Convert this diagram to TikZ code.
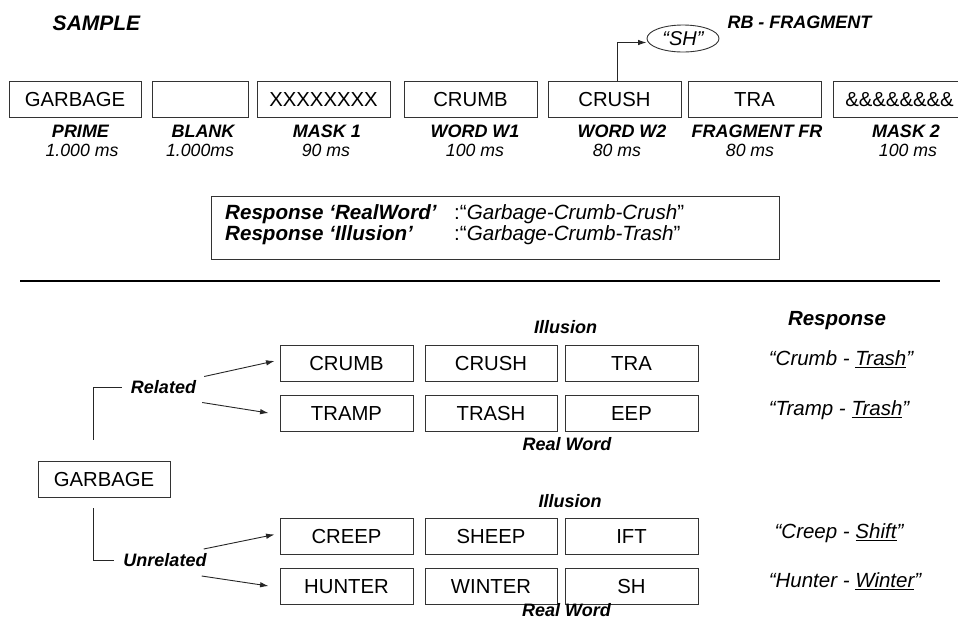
\documentclass[tikz,border=0pt]{standalone}
\usepackage{fontspec}
\setmainfont{Liberation Sans}
\usetikzlibrary{shapes.geometric,arrows.meta}

\tikzset{
    stim/.style={draw=black!80, line width=0.9pt, minimum width=133pt, minimum height=36pt, inner sep=0pt,
        font=\fontsize{20.3}{24}\selectfont, text height=14.5pt, text depth=0pt},
    cond/.style={inner sep=0pt, font=\fontsize{18}{20}\selectfont\bfseries\itshape, text height=12.9pt, text depth=0pt},
    dur/.style={inner sep=0pt, font=\fontsize{17.7}{20}\selectfont\itshape, text height=12.7pt, text depth=0pt},
    rtxt/.style={inner sep=0pt, font=\fontsize{20.6}{24}\selectfont, text height=14.7pt, text depth=0pt},
    answer/.style={inner sep=0pt, font=\fontsize{20.5}{24}\selectfont\itshape, text height=14.7pt, text depth=0pt},
    link/.style={draw=black!85, line width=0.9pt},
    tip/.style={link, -{Latex[length=8.5pt,width=5.5pt]}}
}

\begin{document}
\begin{tikzpicture}[x=1pt,y=-1pt]
    \useasboundingbox (0,0) rectangle (958,619);

    \node[inner sep=0pt, font=\fontsize{21}{24}\selectfont\bfseries\itshape, text height=15pt, text depth=0pt] (sample) at (96.5,23) {SAMPLE};
    \node[cond] (rbfrag) at (799.5,22) {RB - FRAGMENT};

    \node[stim, minimum width=132pt] (prime) at (75,99) {GARBAGE};
    \node[stim, minimum width=96pt] (blank) at (200,99) {};
    \node[stim] (mask1) at (323.5,99) {XXXXXXXX};
    \node[stim] (w1) at (470.5,99) {CRUMB};
    \node[stim] (w2) at (614.5,99) {CRUSH};
    \node[stim] (frag) at (754.5,99) {TRA};
    \node[stim] (mask2) at (899.5,99) {\&\&\&\&\&\&\&\&};

    \node[cond] (primelab) at (80.5,131) {PRIME};
    \node[cond] (blanklab) at (203,131) {BLANK};
    \node[cond] (masklab) at (327,131) {MASK 1};
    \node[cond] (w1lab) at (475,131) {WORD W1};
    \node[cond] (w2lab) at (622,131) {WORD W2};
    \node[cond] (fraglab) at (757,131) {FRAGMENT FR};
    \node[cond] (mask2lab) at (906,131) {MASK 2};

    \node[dur] (primems) at (82,150.5) {1.000 ms};
    \node[dur] (blankms) at (200,150.5) {1.000ms};
    \node[dur] (maskms) at (326,150.5) {90 ms};
    \node[dur] (w1ms) at (475,150.5) {100 ms};
    \node[dur] (w2ms) at (617,150.5) {80 ms};
    \node[dur] (fragms) at (750,150.5) {80 ms};
    \node[dur] (mask2ms) at (908,150.5) {100 ms};

    \node[draw=black!80, line width=0.9pt, ellipse, minimum width=72pt, minimum height=27pt, inner sep=0pt,
        font=\fontsize{20}{24}\selectfont\itshape] (sh) at (683,38.5) {“SH”};
    \draw[tip] ([xshift=3pt]w2.north) |- ([shift={(0,4)}]sh.west);

    \node[draw=black!80, line width=0.9pt, minimum width=568pt, minimum height=63pt, inner sep=0pt] (respbox) at (495,227.5) {};
    \node[rtxt, anchor=west] (resp1) at (225,212) {\bfseries\itshape Response ‘RealWord’};
    \node[rtxt, anchor=west] (resp1b) at (454,212) {:“\textit{Garbage-Crumb-Crush}”};
    \node[rtxt, anchor=west] (resp2) at (225,233) {\bfseries\itshape Response ‘Illusion’};
    \node[rtxt, anchor=west] (resp2b) at (454,233) {:“\textit{Garbage-Crumb-Trash}”};

    \draw[line width=2.2pt] (20,281) -- (940,281);

    \node[stim, minimum width=132pt] (garbage) at (104,479) {GARBAGE};

    \node[stim] (crumb) at (346.5,363) {CRUMB};
    \node[stim, minimum width=132pt] (crush) at (491,363) {CRUSH};
    \node[stim] (tra) at (631.5,363) {TRA};
    \node[stim] (tramp) at (346.5,413) {TRAMP};
    \node[stim, minimum width=132pt] (trash) at (491,413) {TRASH};
    \node[stim] (eep) at (631.5,413) {EEP};

    \node[stim] (creep) at (346.5,536.5) {CREEP};
    \node[stim, minimum width=132pt] (sheep) at (491,536.5) {SHEEP};
    \node[stim] (ift) at (631.5,536.5) {IFT};
    \node[stim] (hunter) at (346.5,586) {HUNTER};
    \node[stim, minimum width=132pt] (winter) at (491,586) {WINTER};
    \node[stim] (shfrag) at (631.5,586) {SH};

    \node[cond] (illus1) at (565.5,327.5) {Illusion};
    \node[cond] (real1) at (567,444) {Real Word};
    \node[cond] (illus2) at (570,501) {Illusion};
    \node[cond] (real2) at (566.5,610.5) {Real Word};

    \node[cond] (rel) at (163.5,387.5) {Related};
    \node[cond] (unrel) at (165,560) {Unrelated};

    \draw[link] ([shift={(-11,-21)}]garbage.north) |- ([xshift=-9pt]rel.west);
    \draw[tip] ([shift={(8,-11)}]rel.east) -- ([shift={(-5,-2)}]crumb.west);
    \draw[tip] ([shift={(6,15)}]rel.east) -- ([xshift=-11pt]tramp.west);

    \draw[link] ([shift={(-11,11)}]garbage.south) |- ([xshift=-9pt]unrel.west);
    \draw[tip] ([shift={(-3,-11)}]unrel.east) -- ([shift={(-5,-2)}]creep.west);
    \draw[tip] ([shift={(-5,16)}]unrel.east) -- ([xshift=-11pt]hunter.west);

    \node[inner sep=0pt, font=\fontsize{20.5}{24}\selectfont\bfseries\itshape, text height=14.7pt, text depth=0pt] (resphead) at (837,318) {Response};
    \node[answer] (ans1) at (841,358) {“Crumb - \underline{Trash}”};
    \node[answer] (ans2) at (839,408) {“Tramp - \underline{Trash}”};
    \node[answer] (ans3) at (839,531) {“Creep - \underline{Shift}”};
    \node[answer] (ans4) at (845,580.5) {“Hunter - \underline{Winter}”};
\end{tikzpicture}
\end{document}
